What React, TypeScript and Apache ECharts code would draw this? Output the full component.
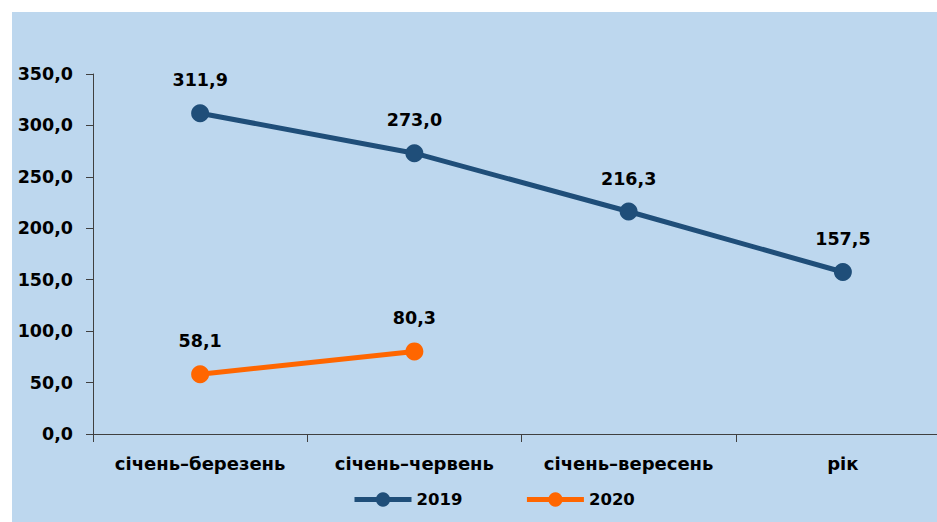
import React, { useEffect, useRef } from "react";
import * as echarts from "echarts";

const categories = ["січень–березень", "січень–червень", "січень–вересень", "рік"];
const series2019 = [311.9, 273.0, 216.3, 157.5];
const series2020 = [58.1, 80.3, null, null];
const seriesNames = ["2019", "2020"];
const yTicks = { min: 0, max: 350, interval: 50 };

const fmt = (v: number) => v.toFixed(1).replace(".", ",");
const FONT = "DejaVu Sans";

export default function App() {
  const ref = useRef<HTMLDivElement>(null);
  useEffect(() => {
    document.body.style.margin = "0";
    const chart = echarts.init(ref.current!, null, { renderer: "svg" });
    const labelStyle = {
      show: true,
      position: "top" as const,
      distance: 15,
      fontFamily: FONT,
      fontWeight: "bold" as const,
      fontSize: 17.5,
      color: "#000",
      formatter: (p: any) => fmt(p.value),
    };
    chart.setOption({
      animation: false,
      backgroundColor: "#BDD7EE",
      textStyle: { fontFamily: FONT },
      grid: { left: 81, right: 0, top: 62, bottom: 88, containLabel: false },
      legend: {
        bottom: 9,
        left: 335,
        itemWidth: 57,
        itemHeight: 18,
        itemGap: 62,
        lineStyle: { width: 5 },
        textStyle: { fontFamily: FONT, fontWeight: "bold", fontSize: 16.5, color: "#000" },
        data: seriesNames,
      },
      xAxis: {
        type: "category",
        data: categories,
        boundaryGap: true,
        axisLine: { lineStyle: { color: "#404040", width: 1 } },
        axisTick: { show: true, length: 8, alignWithLabel: false, interval: 0, lineStyle: { color: "#404040" } },
        axisLabel: {
          interval: 0,
          hideOverlap: false,
          fontFamily: FONT,
          fontWeight: "bold",
          fontSize: 18,
          color: "#000",
          margin: 20,
        },
      },
      yAxis: {
        type: "value",
        min: yTicks.min,
        max: yTicks.max,
        interval: yTicks.interval,
        splitLine: { show: false },
        axisLine: { show: true, lineStyle: { color: "#404040", width: 1 } },
        axisTick: { show: true, length: 7, lineStyle: { color: "#404040" } },
        axisLabel: {
          fontFamily: FONT,
          fontWeight: "bold",
          fontSize: 17.5,
          color: "#000",
          margin: 20,
          formatter: (v: number) => fmt(v),
        },
      },
      series: [
        {
          name: seriesNames[0],
          type: "line",
          data: series2019,
          symbol: "circle",
          symbolSize: 18,
          lineStyle: { width: 5, color: "#1F4E79" },
          itemStyle: { color: "#1F4E79" },
          label: labelStyle,
        },
        {
          name: seriesNames[1],
          type: "line",
          data: series2020,
          symbol: "circle",
          symbolSize: 18,
          lineStyle: { width: 5, color: "#FF6600" },
          itemStyle: { color: "#FF6600" },
          label: labelStyle,
        },
      ],
    });
    return () => chart.dispose();
  }, []);
  return (
    <div style={{ width: 937, height: 522, background: "#fff", position: "relative", overflow: "hidden" }}>
      <div ref={ref} style={{ position: "absolute", left: 12, top: 12, width: 938, height: 510 }} />
    </div>
  );
}
